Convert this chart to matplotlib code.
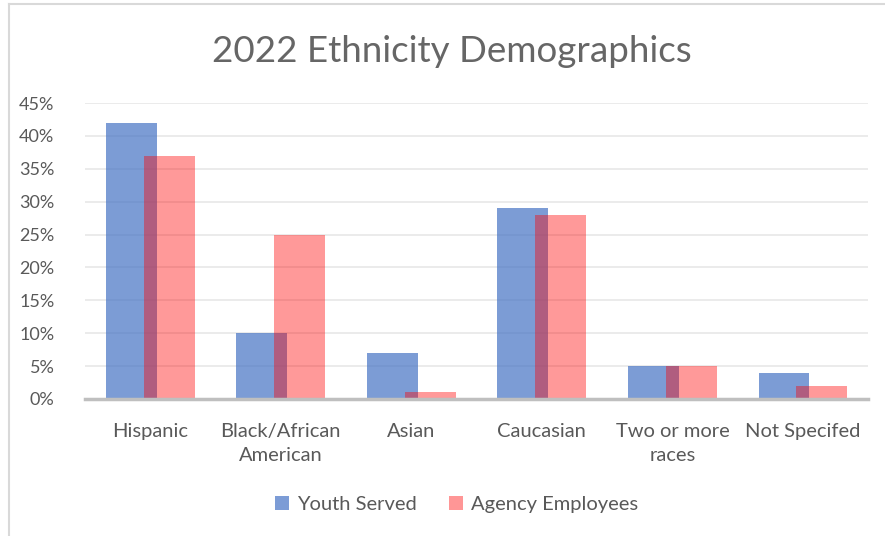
import matplotlib.pyplot as plt
import numpy as np
from matplotlib.lines import Line2D
from matplotlib.patches import Patch

categories = ["Hispanic", "Black/African\nAmerican", "Asian", "Caucasian",
              "Two or more\nraces", "Not Specifed"]
youth_served = [0.42, 0.10, 0.07, 0.29, 0.05, 0.04]
agency_employees = [0.37, 0.25, 0.01, 0.28, 0.05, 0.02]
y_ticks = [0.0, 0.05, 0.10, 0.15, 0.20, 0.25, 0.30, 0.35, 0.40, 0.45]

plt.rcParams['font.family'] = ['Lato', 'DejaVu Sans']
txt = "#595959"

fig = plt.figure(figsize=(8.85, 5.36), dpi=100)
ax = fig.add_axes([0.096, 0.2556, 0.885, 0.5522])

x = np.arange(len(categories))
w = 0.39
ax.bar(x - 0.145, youth_served, w, color="#4472C4", alpha=0.7, zorder=2)
ax.bar(x + 0.145, agency_employees, w, color="#FF0000", alpha=0.4, zorder=3)

ax.set_xlim(-0.5, len(categories) - 0.5)
ax.set_ylim(0, 0.45)
ax.set_yticks(y_ticks)
ax.set_yticklabels(["{:.0f}%".format(v * 100) for v in y_ticks])
ax.set_xticks(x)
ax.set_xticklabels(categories, linespacing=1.55, va="top", fontsize=14.5)
ax.tick_params(axis="both", length=0, colors=txt)
ax.tick_params(axis="y", pad=22, labelsize=13)
ax.tick_params(axis="x", pad=17)
ax.yaxis.grid(True, color="#E9E9E9", linewidth=1.3, zorder=0)
ax.set_axisbelow(True)
for s in ["top", "right", "left"]:
    ax.spines[s].set_visible(False)
ax.spines["bottom"].set_color("#BFBFBF")
ax.spines["bottom"].set_linewidth(2.5)
ax.spines["bottom"].set_zorder(4)

fig.text(0.511, 0.903, "2022 Ethnicity Demographics", ha="center", va="center",
         fontsize=26.5, color="#666666")

handles = [Patch(facecolor="#7C9CD6", edgecolor="none"),
           Patch(facecolor="#FF9696", edgecolor="none")]
fig.legend(handles, ["Youth Served", "Agency Employees"], loc="center",
           bbox_to_anchor=(0.516, 0.058), ncol=2, frameon=False, fontsize=14.5,
           labelcolor=txt, handlelength=0.7, handleheight=0.7,
           handletextpad=0.4, columnspacing=1.6)

# chart frame (left and top edges visible)
fig.add_artist(Line2D([0.0105, 0.0105], [0, 0.992], color="#D9D9D9", linewidth=1.5))
fig.add_artist(Line2D([0.0105, 1.0], [0.992, 0.992], color="#D9D9D9", linewidth=1.5))

fig.savefig("out.png", dpi=100)
